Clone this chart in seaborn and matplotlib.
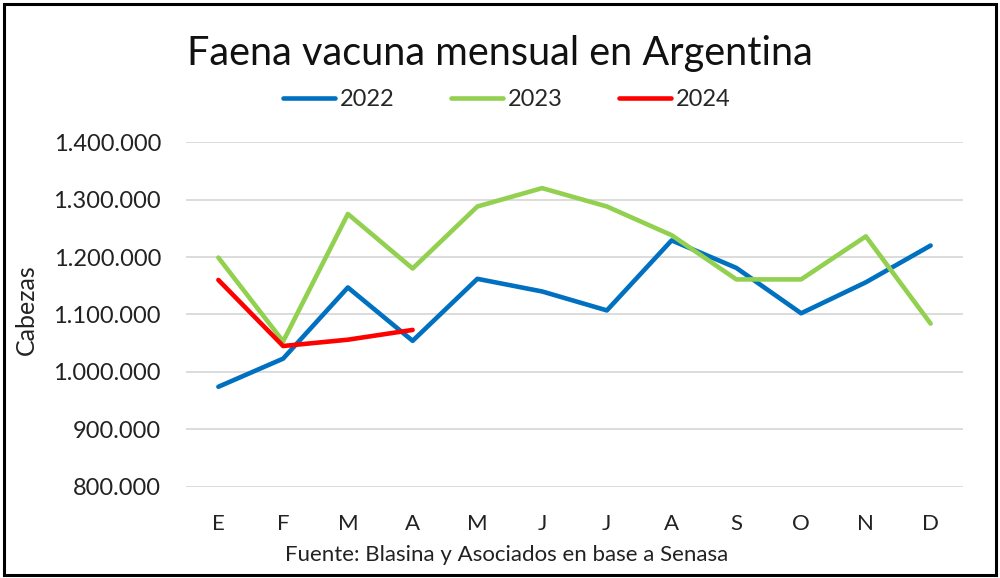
import matplotlib
matplotlib.use("Agg")
import matplotlib.pyplot as plt
import seaborn as sns
import pandas as pd
from matplotlib.patches import Rectangle
from matplotlib.ticker import FuncFormatter

# datos (cabezas por mes)
meses = ["E", "F", "M", "A", "M", "J", "J", "A", "S", "O", "N", "D"]
faena_2022 = [974000, 1023000, 1147000, 1054000, 1162000, 1140000,
              1107000, 1229000, 1181000, 1102000, 1156000, 1220000]
faena_2023 = [1199000, 1053000, 1275000, 1180000, 1288000, 1320000,
              1288000, 1238000, 1161000, 1161000, 1236000, 1084000]
faena_2024 = [1160000, 1045000, 1056000, 1073000]

filas = []
for anio, serie in [("2022", faena_2022), ("2023", faena_2023), ("2024", faena_2024)]:
    for i, v in enumerate(serie):
        filas.append({"mes": i, "anio": anio, "cabezas": v})
data = pd.DataFrame(filas)

sns.set_style("white")
plt.rcParams["font.family"] = ["Lato", "DejaVu Sans"]

fig = plt.figure(figsize=(10, 5.78), dpi=100)
ax = fig.add_axes([0.186, 0.158, 0.777, 0.596])

colores = {"2022": "#0070C0", "2023": "#92D050", "2024": "#FF0000"}
sns.lineplot(data=data, x="mes", y="cabezas", hue="anio", palette=colores,
             linewidth=3.3, ax=ax, legend=True)

ax.set_xlim(-0.5, 11.5)
ax.set_ylim(800000, 1400000)
ax.set_yticks(range(800000, 1400001, 100000))
ax.yaxis.set_major_formatter(FuncFormatter(lambda v, p: f"{int(v):,}".replace(",", ".")))
ax.set_xticks(range(12))
ax.set_xticklabels(meses)
ax.tick_params(axis="y", labelsize=17, pad=18, length=0, colors="#222222")
ax.tick_params(axis="x", labelsize=16, pad=20, length=0, colors="#222222")
ax.grid(axis="y", color="#D9D9D9", linewidth=1.3)
ax.set_axisbelow(True)
for s in ax.spines.values():
    s.set_visible(False)

ax.set_xlabel("")
ax.set_ylabel("Cabezas", fontsize=18, color="#222222")
ax.yaxis.set_label_coords(-0.19, 0.513)

handles, labels = ax.get_legend_handles_labels()
ax.get_legend().remove()
fig.legend(handles, labels, loc="center", bbox_to_anchor=(0.507, 0.827), ncol=3,
           frameon=False, fontsize=17, handlelength=2.2, handletextpad=0.2,
           columnspacing=2.4)

fig.text(0.50, 0.908, "Faena vacuna mensual en Argentina", ha="center", va="center",
         fontsize=28.5, color="#111111")
fig.text(0.507, 0.04, "Fuente: Blasina y Asociados en base a Senasa", ha="center",
         va="center", fontsize=16, color="#222222")

fig.patches.append(Rectangle((0.004, 0.005), 0.992, 0.988, transform=fig.transFigure,
                             fill=False, edgecolor="black", linewidth=2.2))

fig.savefig("out.png", dpi=100)
